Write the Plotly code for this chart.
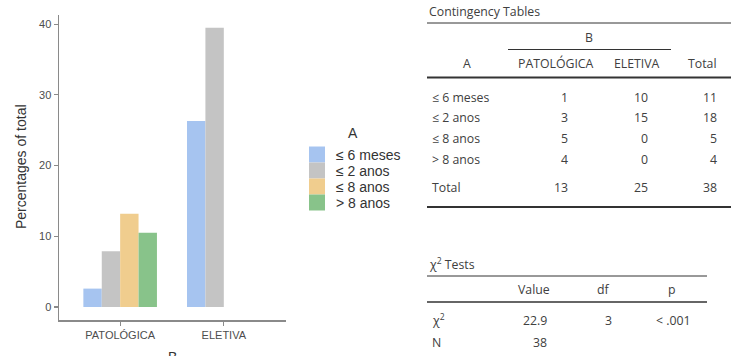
import plotly.graph_objects as go

# ---------------- data ----------------
categories_B = ["PATOLÓGICA", "ELETIVA"]
levels_A = ["≤ 6 meses", "≤ 2 anos", "≤ 8 anos", "> 8 anos"]
pct_le6m = [2.6, 26.3]
pct_le2a = [7.9, 39.5]
pct_le8a = [13.2, 0.0]
pct_gt8a = [10.5, 0.0]
colors_A = ["#A6C4F0", "#C4C4C4", "#F0CD8E", "#88C38A"]

count_patologica = [1, 3, 5, 4]
count_eletiva = [10, 15, 0, 0]
count_total = [11, 18, 5, 4]
col_totals = [13, 25, 38]

chi2_value = "22.9"
chi2_df = "3"
chi2_p = "< .001"
n_total = "38"

y_ticks = [0, 10, 20, 30, 40]

# ---------------- layout geometry (pixels) ----------------
W, H = 731, 356
PL, PR, PT, PB = 59, 286, 15, 320  # plot area


def px(x):
    return (x - PL) / (PR - PL)


def py(y):
    return (PB - y) / (PB - PT)


fig = go.Figure()
series = [pct_le6m, pct_le2a, pct_le8a, pct_gt8a]
for name, vals, col in zip(levels_A, series, colors_A):
    fig.add_trace(go.Bar(x=categories_B, y=vals, name=name,
                         marker=dict(color=col, line=dict(width=0)),
                         showlegend=False, hoverinfo="skip"))

axis_col = "#8a8a8a"
tick_font = dict(family="Liberation Sans, Arial", size=11, color="#4d4d4d")
fig.update_layout(
    width=W, height=H,
    margin=dict(l=PL, r=W - PR, t=PT, b=H - PB, pad=0),
    paper_bgcolor="white", plot_bgcolor="white",
    barmode="group", bargap=0.29, bargroupgap=0,
    xaxis=dict(range=[-0.59, 1.6], showline=True, linecolor=axis_col, linewidth=1.5,
               ticks="outside", ticklen=4, tickcolor=axis_col, tickwidth=1.2,
               tickfont=tick_font, showgrid=False, zeroline=False, fixedrange=True),
    yaxis=dict(range=[-1.84, 41.3], showline=True, linecolor=axis_col, linewidth=1.5,
               ticks="outside", ticklen=4, tickcolor=axis_col, tickwidth=1.2,
               tickvals=y_ticks, tickfont=tick_font, showgrid=False, zeroline=False,
               fixedrange=True),
    showlegend=False,
)

ann = []
shapes = []

# axis titles
ann.append(dict(text="Percentages of total", x=px(21), y=py(167), xref="paper", yref="paper",
                textangle=-90, showarrow=False, xanchor="center", yanchor="middle",
                font=dict(family="Liberation Sans, Arial", size=14, color="#333333")))
ann.append(dict(text="B", x=px(172), y=py(347), xref="paper", yref="paper",
                showarrow=False, xanchor="center", yanchor="top",
                font=dict(family="Liberation Sans, Arial", size=14, color="#333333")))

# custom legend
ann.append(dict(text="A", x=px(353), y=py(133), xref="paper", yref="paper",
                showarrow=False, xanchor="center", yanchor="middle",
                font=dict(family="Liberation Sans, Arial", size=14, color="#333333")))
for i, (name, col) in enumerate(zip(levels_A, colors_A)):
    cy = 154.5 + 16 * i
    shapes.append(dict(type="rect", xref="paper", yref="paper",
                       x0=px(309), x1=px(325), y0=py(cy - 8), y1=py(cy + 8),
                       fillcolor=col, line=dict(width=0)))
    ann.append(dict(text=name, x=px(334), y=py(cy), xref="paper", yref="paper",
                    showarrow=False, xanchor="left", yanchor="middle",
                    font=dict(family="Liberation Sans, Arial", size=14, color="#333333")))

# ---------------- tables ----------------
tf = dict(family="Open Sans", size=12.3, color="#404040")


def txt(s, x, y, anchor="center", size=None):
    f = dict(tf)
    if size:
        f["size"] = size
    ann.append(dict(text=s, x=px(x), y=py(y), xref="paper", yref="paper",
                    showarrow=False, xanchor=anchor, yanchor="middle", font=f))


def hline(x0, x1, y, w=1, col="#333333"):
    shapes.append(dict(type="line", xref="paper", yref="paper",
                       x0=px(x0), x1=px(x1), y0=py(y), y1=py(y),
                       line=dict(color=col, width=w)))


# Contingency table
txt("Contingency Tables", 427, 12, "left")
hline(427, 731, 23, 1)
txt("B", 589, 37)
hline(508, 671, 49.5, 1)
txt("A", 467, 63)
txt(categories_B[0], 556, 63)
txt(categories_B[1], 637, 63)
txt("Total", 719, 63, "right")
hline(427, 731, 77.5, 2)
row_y = [97, 117.5, 138.5, 159.5]
for i, lab in enumerate(levels_A):
    txt(lab, 430, row_y[i], "left")
    txt(str(count_patologica[i]), 570, row_y[i], "right")
    txt(str(count_eletiva[i]), 650, row_y[i], "right")
    txt(str(count_total[i]), 719, row_y[i], "right")
txt("Total", 430, 187, "left")
txt(str(col_totals[0]), 570, 187, "right")
txt(str(col_totals[1]), 650, 187, "right")
txt(str(col_totals[2]), 719, 187, "right")
hline(427, 731, 207, 2)

# Chi-square tests table
txt("χ<sup>2</sup> Tests", 427, 264, "left")
hline(427, 707, 276, 1)
txt("Value", 534, 289)
txt("df", 603, 289)
txt("p", 672, 289)
hline(427, 707, 302, 1.5)
txt("χ<sup>2</sup>", 430, 320, "left")
txt(chi2_value, 549, 320, "right")
txt(chi2_df, 608, 320)
txt(chi2_p, 693, 320, "right")
txt("N", 430, 342, "left")
txt(n_total, 549, 342, "right")

fig.update_layout(annotations=ann, shapes=shapes)
fig.write_html("out.html", config=dict(displayModeBar=False, staticPlot=True),
               post_script="document.body.style.margin='0';document.body.style.overflow='hidden';")
